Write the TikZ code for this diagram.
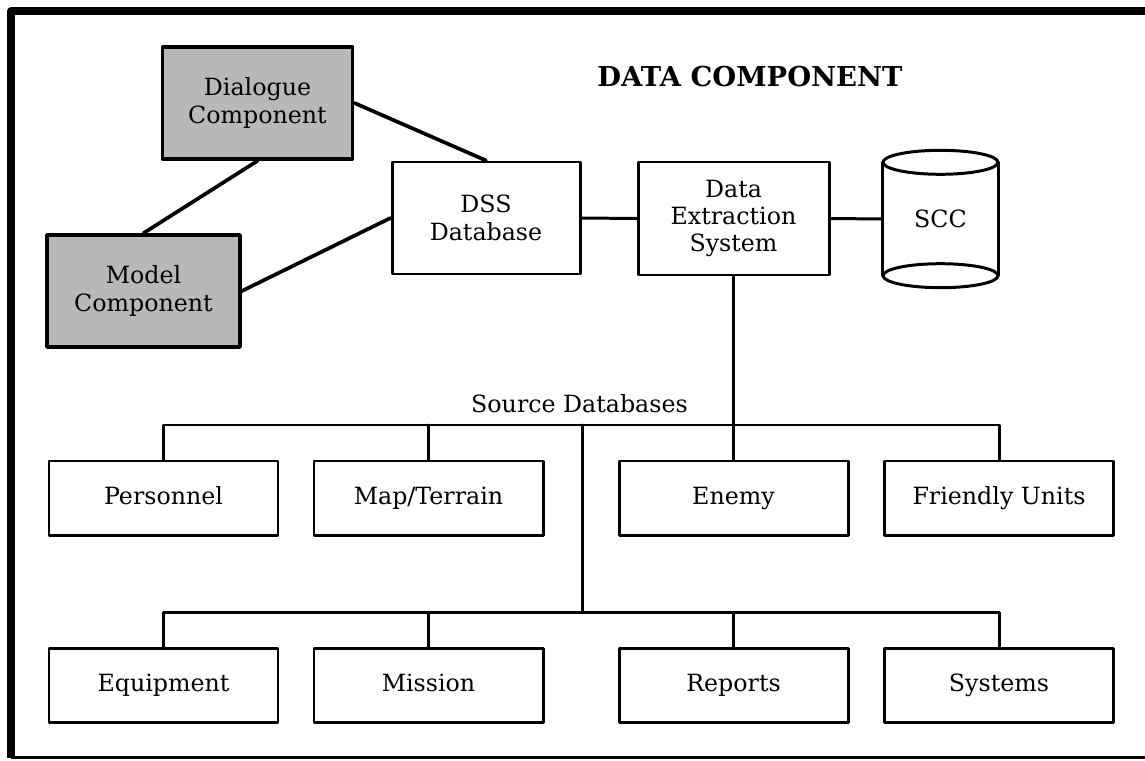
\documentclass[tikz,border=0pt]{standalone}
\usepackage{fontspec}
\setmainfont{DejaVu Serif}
\begin{document}
\begin{tikzpicture}[line join=round, line cap=round, thick]
            \tikzset{box style/.style={draw, line width=1.7pt, align=center, inner sep=0pt, font=\fontsize{13.5}{15.6}\selectfont},
                     comp style/.style={box style, line width=2.1pt, fill=black!28, minimum width=3.8cm, minimum height=2.24cm},
                     db style/.style={box style, minimum width=4.58cm, minimum height=1.48cm, text height=0.73em, text depth=0pt},
                     link/.style={line width=1.7pt}}
            \useasboundingbox (0,0) rectangle (22.9,15.2);
            % frame
            \draw[line width=4pt, line cap=butt] (22.9,14.98) -- (0.22,14.98) -- (0.22,0.05);
            \draw[line width=1.2pt, line cap=butt] (0.22,0.05) -- (22.9,0.05);
            \node[font=\fontsize{15.6}{18}\selectfont\bfseries] (title) at (15.0,13.66) {DATA COMPONENT};
            % upper part
            \node[comp style] (dial) at (5.15,13.14) {Dialogue\\Component};
            \node[comp style, minimum width=3.86cm] (model) at (2.87,9.38) {Model\\Component};
            \node[box style, minimum width=3.76cm, minimum height=2.24cm] (dss) at (9.72,10.84) {DSS\\Database};
            \node[box style, minimum width=3.82cm, minimum height=2.26cm] (des) at (14.67,10.83) {Data\\Extraction\\System};
            \node[inner sep=0pt, minimum width=2.3cm, minimum height=2.24cm, font=\fontsize{13.5}{15.6}\selectfont] (scc) at (18.81,10.82) {SCC};
            \draw[link] (scc.north) ellipse (1.15 and 0.24);
            \draw[link] (scc.south) ellipse (1.15 and 0.24);
            \draw[link] (scc.north west) -- (scc.south west);
            \draw[link] (scc.north east) -- (scc.south east);
            \draw[link, line width=2.1pt] (dial.east) -- (dss.north);
            \draw[link, line width=2.1pt] (dial.south) -- (model.north);
            \draw[link, line width=2.1pt] (model.east) -- (dss.west);
            \draw[link] (dss.east) -- (des.west);
            \draw[link] (des.east) -- (scc.west);
            % source databases
            \node[font=\fontsize{13.5}{15.6}\selectfont] (src) at (11.59,7.12) {Source Databases};
            \node[db style] (pers) at (3.27,5.24) {Personnel};
            \node[db style] (map) at (8.57,5.24) {Map/Terrain};
            \node[db style] (enemy) at (14.67,5.24) {Enemy};
            \node[db style] (fri) at (19.98,5.24) {Friendly Units};
            \node[db style] (equip) at (3.27,1.49) {Equipment};
            \node[db style] (mis) at (8.57,1.49) {Mission};
            \node[db style] (rep) at (14.67,1.49) {Reports};
            \node[db style] (sys) at (19.98,1.49) {Systems};
            \coordinate (bus1) at (11.64,6.70);
            \coordinate (bus2) at (11.64,2.96);
            \draw[link] (des.south) -- (enemy.north);
            \draw[link] (pers.north) |- (bus1) -| (fri.north);
            \draw[link] (map.north) -- (map.north |- bus1);
            \draw[link] (bus1) -- (bus2);
            \draw[link] (equip.north) |- (bus2) -| (sys.north);
            \draw[link] (mis.north) -- (mis.north |- bus2);
            \draw[link] (rep.north) -- (rep.north |- bus2);
        \end{tikzpicture}
\end{document}
